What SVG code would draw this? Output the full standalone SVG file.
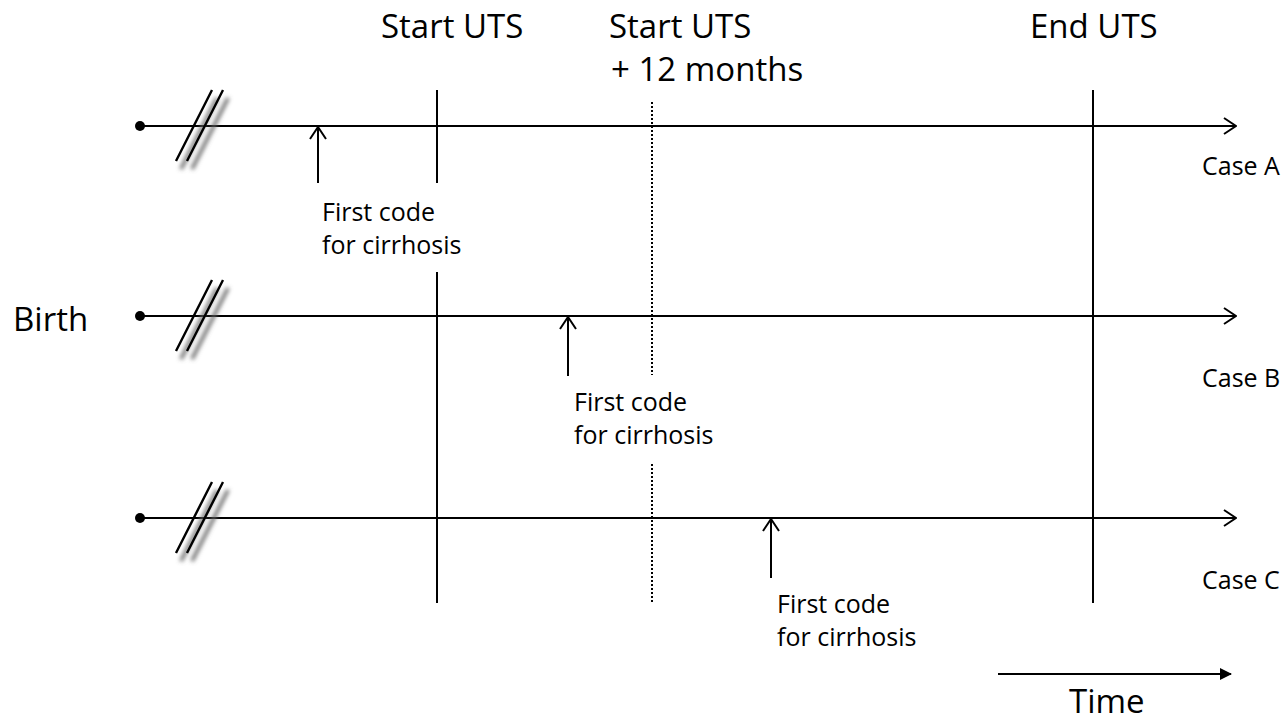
<svg xmlns="http://www.w3.org/2000/svg" width="1288" height="722" viewBox="0 0 1288 722">
  <style>
    text { font-family: "Open Sans", "Noto Sans", sans-serif; fill: #000; }
    .hdr { font-size: 33px; }
    .lbl { font-size: 25px; }
    .case { font-size: 25px; }
    .line { stroke: #000; stroke-width: 2; fill: none; }
    .dot { stroke: #000; stroke-width: 2; stroke-dasharray: 2 2; fill: none; }
    .brk { stroke: #000; stroke-width: 2.4; fill: none; }
    .brk-sh { stroke: #666; stroke-width: 3.5; fill: none; filter: url(#soft); }
  </style>
  <defs>
    <marker id="open" viewBox="0 0 14 18" refX="13" refY="9" markerWidth="14" markerHeight="18" markerUnits="userSpaceOnUse" orient="auto">
      <path d="M1,1 L13,9 L1,17" fill="none" stroke="#000" stroke-width="2"/>
    </marker>
    <marker id="solid" viewBox="0 0 12 12" refX="11" refY="6" markerWidth="13" markerHeight="12" markerUnits="userSpaceOnUse" orient="auto">
      <path d="M0,0 L12,6 L0,12 Z" fill="#000"/>
    </marker>
    <filter id="soft" x="-50%" y="-50%" width="200%" height="200%">
      <feGaussianBlur stdDeviation="2.2"/>
    </filter>
    <g id="brkmark">
      <path class="brk-sh" d="M217,98 L181,169 M228,98 L192,169"/>
      <path class="brk" d="M212,90 L176,161 M223,90 L187,161"/>
    </g>
  </defs>

  <!-- column headers -->
  <g id="hdr-start">
    <text class="hdr" x="381" y="38">Start UTS</text>
  </g>
  <g id="hdr-start12">
    <text class="hdr" x="609" y="38">Start UTS</text>
    <text class="hdr" x="611" y="81">+ 12 months</text>
  </g>
  <g id="hdr-end">
    <text class="hdr" x="1030" y="38">End UTS</text>
  </g>
  <g id="birth">
    <text class="hdr" x="13" y="331">Birth</text>
  </g>

  <!-- vertical markers -->
  <g id="markers">
    <path class="line" d="M437,90 V183 M437,272 V603"/>
    <path class="dot" d="M652,102 V375 M652,464 V603"/>
    <path class="line" d="M1093,90 V603"/>
  </g>

  <!-- timelines and event arrows -->
  <g id="connectors">
    <path class="line" d="M140,126 H1236" marker-end="url(#open)"/>
    <path class="line" d="M140,316 H1236" marker-end="url(#open)"/>
    <path class="line" d="M140,518 H1236" marker-end="url(#open)"/>
    <path class="line" d="M318,183 V127" marker-end="url(#open)"/>
    <path class="line" d="M568,376 V317" marker-end="url(#open)"/>
    <path class="line" d="M771,578 V519" marker-end="url(#open)"/>
    <path class="line" d="M998,674 H1231" marker-end="url(#solid)"/>
  </g>

  <!-- birth points, break marks and labels -->
  <g id="caseA">
    <circle cx="140" cy="126" r="5"/>
    <use href="#brkmark"/>
    <text class="case" x="1202" y="175">Case A</text>
    <text class="lbl" x="322" y="221">First code</text>
    <text class="lbl" x="322" y="254">for cirrhosis</text>
  </g>
  <g id="caseB">
    <circle cx="140" cy="316" r="5"/>
    <use href="#brkmark" transform="translate(0,190)"/>
    <text class="case" x="1202" y="387">Case B</text>
    <text class="lbl" x="574" y="411">First code</text>
    <text class="lbl" x="574" y="444">for cirrhosis</text>
  </g>
  <g id="caseC">
    <circle cx="140" cy="518" r="5"/>
    <use href="#brkmark" transform="translate(0,392)"/>
    <text class="case" x="1202" y="589">Case C</text>
    <text class="lbl" x="777" y="613">First code</text>
    <text class="lbl" x="777" y="646">for cirrhosis</text>
  </g>

  <g id="time">
    <text class="hdr" x="1069" y="713">Time</text>
  </g>
</svg>
